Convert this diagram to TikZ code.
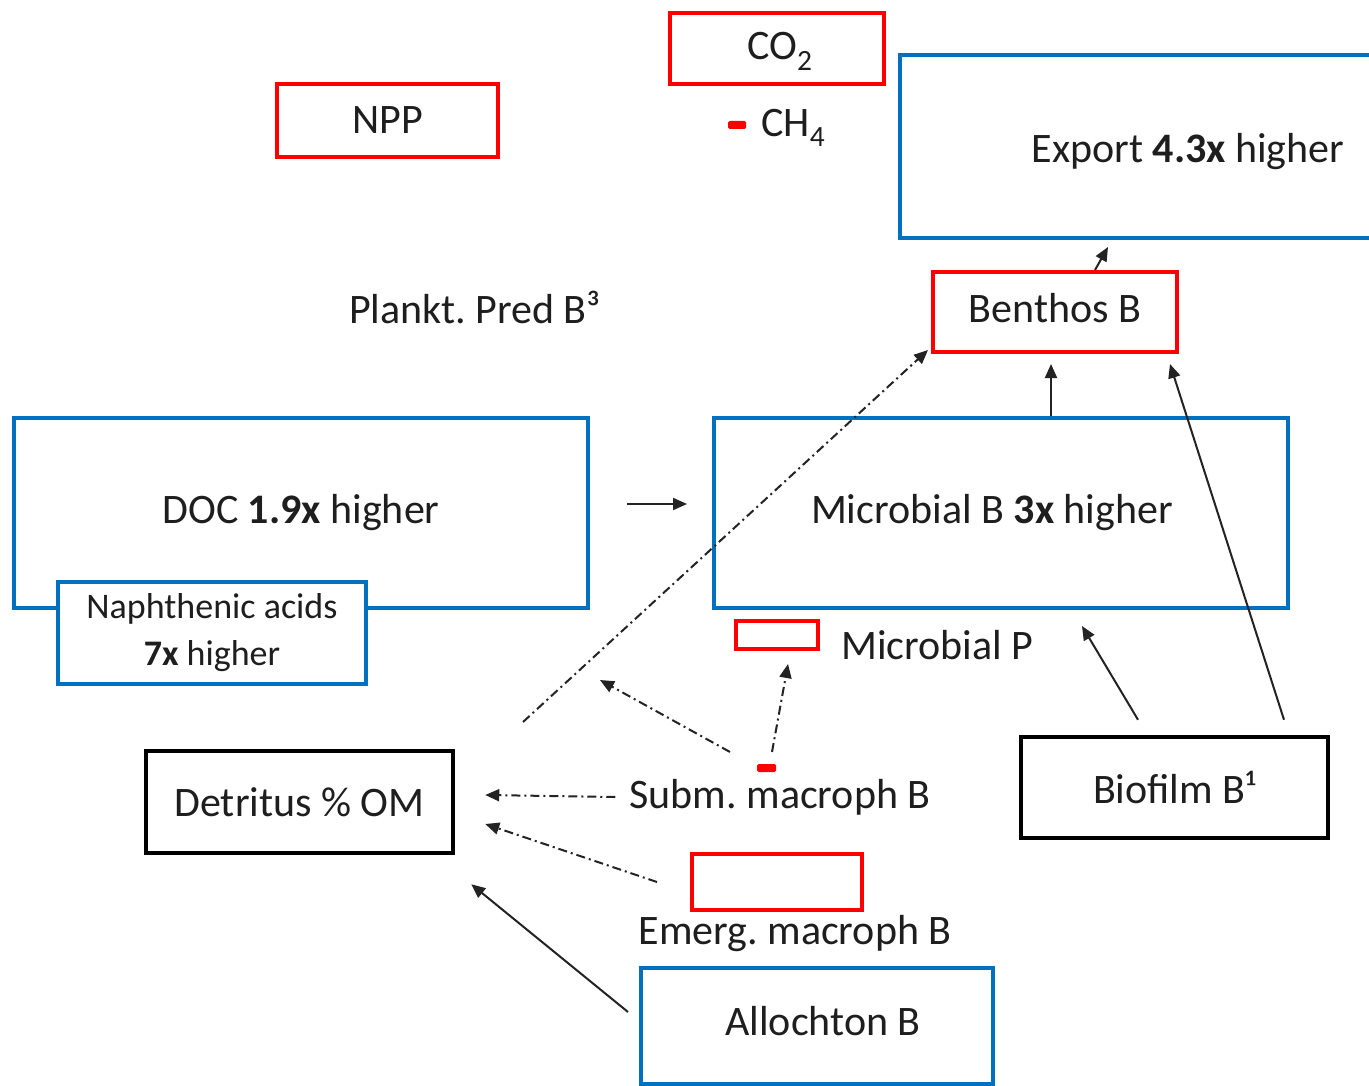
\documentclass[tikz,border=0pt]{standalone}
\usepackage{fontspec}
\setmainfont{Carlito}
\usetikzlibrary{arrows.meta}
\definecolor{myblue}{RGB}{0,112,192}
\definecolor{myred}{RGB}{255,0,0}
\definecolor{txt}{RGB}{30,30,30}
\definecolor{ln}{RGB}{35,35,35}
\frenchspacing
\newcommand{\shiftv}[2]{\raisebox{#1}[\height][\depth]{#2}}
\tikzset{
  basebox/.style={rectangle, inner sep=0pt, text=txt, font=\fontsize{42}{50}\selectfont},
  redbox/.style={basebox, draw=myred, line width=4pt},
  bluebox/.style={basebox, draw=myblue, line width=4pt},
  blackbox/.style={basebox, draw=black, line width=4.5pt},
  redmark/.style={rectangle, fill=myred, rounded corners=1.5pt, inner sep=0pt, minimum width=18pt, minimum height=8pt},
  lbl/.style={inner sep=0pt, text=txt, font=\fontsize{42}{50}\selectfont},
  conn/.style={draw=ln, line width=2pt, -{Triangle[length=14pt,width=12pt]}},
  dashconn/.style={conn, dash pattern=on 9pt off 4pt on 2pt off 4pt},
}
\begin{document}
\begin{tikzpicture}[x=1pt,y=-1pt]
\useasboundingbox (0,0) rectangle (1369,1086);
\clip (0,0) rectangle (1369,1086);
\fill[white] (0,0) rectangle (1369,1086);

% top row
\node[redbox, minimum width=221pt, minimum height=73pt] (npp) at (387.5,120.5) {NPP};
\node[redbox, minimum width=214pt, minimum height=71pt] (co2) at (777,48.5) {\shiftv{-3pt}{\hspace*{6pt}CO\textsubscript{2}}};
\node[redmark] (ch4m) at (737,125) {};
\node[lbl, anchor=west] (ch4) at (761,128) {CH\textsubscript{4}};
\node[bluebox, minimum width=576pt, minimum height=183pt] (export) at (1188,146.5) {\shiftv{-5pt}{Export \textbf{4.3x} higher}};

\node[redbox, minimum width=244pt, minimum height=80pt] (benthos) at (1055,312) {\shiftv{4pt}{Benthos B}};
\node[lbl] (plankt) at (475,307) {Plankt. Pred B³};

% middle row
\node[bluebox, minimum width=574pt, minimum height=190pt] (doc) at (301,513) {DOC \textbf{1.9x} higher};
\node[bluebox, fill=white, minimum width=308pt, minimum height=102pt, align=center,
      font=\fontsize{36}{47}\selectfont] (naph) at (212,633) {Naphthenic acids\\\textbf{7x} higher};
\node[bluebox, minimum width=574pt, minimum height=190pt] (micro) at (1001,513) {\hspace*{-18pt}Microbial B \textbf{3x} higher};

\node[redbox, minimum width=82pt, minimum height=28pt] (microP) at (777,635) {};
\node[lbl, anchor=west] (microPl) at (841,645) {Microbial P};

% lower area
\node[blackbox, minimum width=307pt, minimum height=101pt] (biofilm) at (1174.5,787.5) {Biofilm B¹};
\node[blackbox, minimum width=307pt, minimum height=102pt] (detritus) at (299.5,802) {Detritus \% OM};
\node[redmark, minimum width=19pt] (submm) at (766.5,768) {};
\node[lbl] (subm) at (780,797) {Subm. macroph B};
\node[redbox, minimum width=170pt, minimum height=56pt] (emergbox) at (777,882) {};
\node[lbl] (emerg) at (795,934) {Emerg. macroph B};
\node[bluebox, minimum width=352pt, minimum height=116pt] (allo) at (817,1026) {\shiftv{5pt}{\hspace*{12pt}Allochton B}};

% free ends
\coordinate (c1) at (627,504);
\coordinate (c2) at (687,504);
\coordinate (d0) at (523,722);
\coordinate (s1) at (730,752);
\coordinate (s1e) at (600,680);
\coordinate (s2) at (772,752);
\coordinate (s2e) at (788,664);
\coordinate (e1) at (657,882);
\coordinate (a1) at (628,1012);

% connectors
\draw[conn] ([xshift=40pt]benthos.north) -- ([xshift=-80pt,yshift=-7pt]export.south);
\draw[conn] (c1) -- (c2);
\draw[conn] ([xshift=50pt]micro.north) -- ([xshift=-4pt,yshift=-10pt]benthos.south);
\draw[conn] ([xshift=-36.5pt,yshift=15pt]biofilm.north) -- ([xshift=81pt,yshift=-16pt]micro.south);
\draw[conn] ([xshift=109.5pt,yshift=15pt]biofilm.north) -- ([xshift=-9pt,yshift=-10pt]benthos.south east);
\draw[dashconn] (d0) -- ([xshift=-3pt,yshift=4pt]benthos.south west);
\draw[dashconn] (s1) -- (s1e);
\draw[dashconn] (s2) -- (s2e);
\draw[dashconn] ([xshift=-14pt]subm.west) -- ([xshift=30pt,yshift=7pt]detritus.east);
\draw[dashconn] (e1) -- ([xshift=30pt,yshift=-22pt]detritus.east);
\draw[conn] (a1) -- ([xshift=16pt,yshift=-29pt]detritus.south east);
\end{tikzpicture}
\end{document}
